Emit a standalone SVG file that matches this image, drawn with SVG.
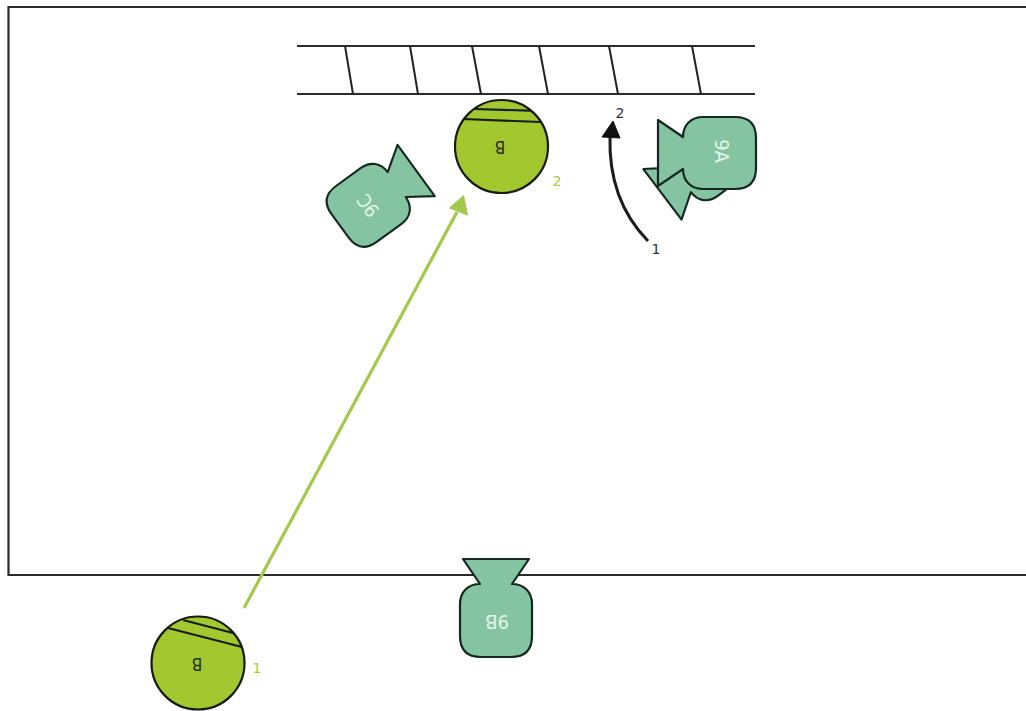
<svg xmlns="http://www.w3.org/2000/svg" width="1026" height="711" viewBox="0 0 1026 711">
<style>
text{font-family:"DejaVu Sans",sans-serif;font-size:14px;text-anchor:middle}
.wall{fill:none;stroke:#2b2b2b;stroke-width:2.2}
.tick{fill:none;stroke:#222;stroke-width:2}
.cam{fill:#85c4a2;stroke:#14281f;stroke-width:2.2;stroke-linejoin:round}
.camt{fill:#e2f6e6;font-family:"DejaVu Sans Condensed","DejaVu Sans",sans-serif;font-size:20px}
.ball{fill:#a3c72f;stroke:#161c10;stroke-width:2.2}
.chord{fill:none;stroke:#161c10;stroke-width:2.2}
.ballt{fill:#27301a;font-family:"DejaVu Sans Condensed","DejaVu Sans",sans-serif;font-size:17px}
.gn{fill:#a9c93f}
.bk{fill:#333}
</style>
<defs>
<path id="camera" class="cam" d="M-33,-62 L33,-62 L16,-37 C28,-37 36,-29 36,-17 L36,15 Q36,36 15,36 L-15,36 Q-36,36 -36,15 L-36,-17 C-36,-29 -28,-37 -16,-37 Z"/>
</defs>
<rect width="1026" height="711" fill="#fff"/>
<g id="walls">
<path class="wall" d="M1026,7 H8.5 V575 H1026"/>
<path class="wall" d="M297,46 H755 M297,94 H755"/>
<path class="tick" d="M345,46 L353,94 M410,46 L418,94 M472,46 L481,94 M539,46 L548,94 M609,46 L618,94 M692,46 L701,94"/>
</g>
<g id="connectors">
<path d="M244,608 L457,212" fill="none" stroke="#a3c94a" stroke-width="3.2"/>
<path d="M463.5,195.5 L467.5,215 L449.5,208 Z" fill="#a3c94a" stroke="#a3c94a" stroke-linejoin="round"/>
<path d="M648,241 Q608,200 610,136" fill="none" stroke="#1c1c1c" stroke-width="3"/>
<path d="M613,121 L620,138 L602,137 Z" fill="#111" stroke="#111" stroke-linejoin="round"/>
</g>
<g id="camera-9A-back" transform="translate(710,158.5) rotate(-127) scale(.96)"><use href="#camera"/></g>
<g id="camera-9A" transform="translate(720,153) rotate(-90)"><use href="#camera"/><text class="camt" transform="translate(2,2) rotate(180)" y="7">9A</text></g>
<g id="camera-9B" transform="translate(496,621)"><use href="#camera"/><text class="camt" transform="translate(1,1) rotate(180)" y="7">9B</text></g>
<g id="camera-9C" transform="translate(368,205.5) rotate(54) scale(.96)"><use href="#camera"/><text class="camt" transform="rotate(180)" y="7">9C</text></g>
<g id="ball-2">
<circle class="ball" cx="501.5" cy="146.5" r="46.5"/>
<path class="chord" d="M475,109 L530,110.7 M463,119 L541,122"/>
<text class="ballt" transform="translate(500,147) rotate(180)" y="6">B</text>
<text class="gn" x="557" y="186">2</text>
</g>
<g id="ball-1">
<circle class="ball" cx="198" cy="663" r="46.5"/>
<path class="chord" d="M183,620 L233,633 M168,628 L242,647"/>
<text class="ballt" transform="translate(197,664) rotate(180)" y="6">B</text>
<text class="gn" x="257" y="673">1</text>
</g>
<g id="labels">
<text class="bk" x="656" y="254">1</text>
<text class="bk" x="620" y="118">2</text>
</g>
</svg>
